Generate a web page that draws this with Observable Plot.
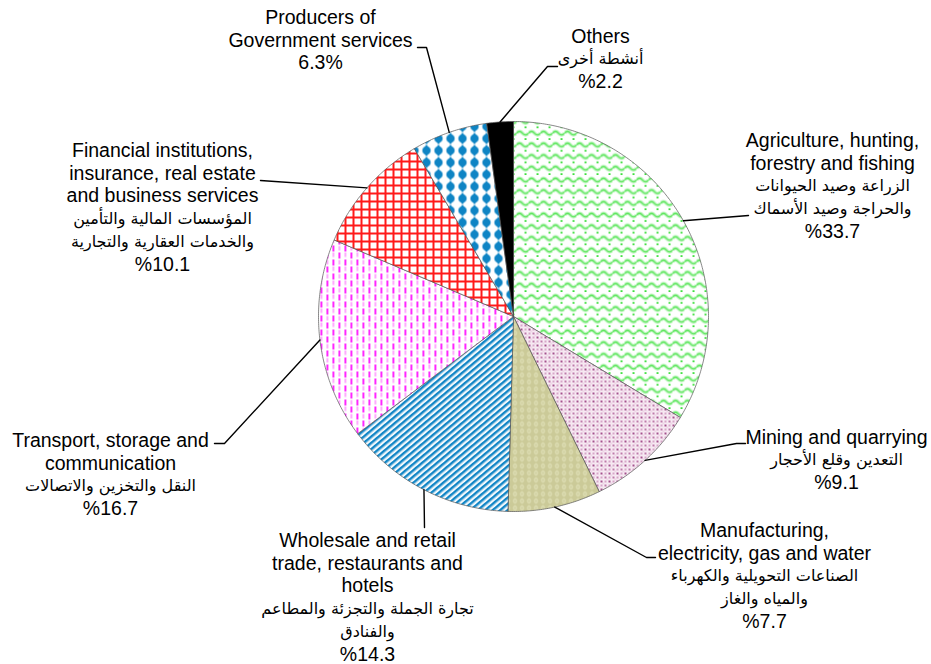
<!DOCTYPE html>
<html><head><meta charset="utf-8">
<script src="https://cdn.jsdelivr.net/npm/d3@7"></script>
<script src="https://cdn.jsdelivr.net/npm/@observablehq/plot@0.6"></script>
<style>html,body{margin:0;padding:0;background:#fff} svg{display:block}</style>
</head><body><div id="chart"></div>
<script>
// ---------- DATA ----------
const categories = [
  "Agriculture, hunting, forestry and fishing",
  "Mining and quarrying",
  "Manufacturing, electricity, gas and water",
  "Wholesale and retail trade, restaurants and hotels",
  "Transport, storage and communication",
  "Financial institutions, insurance, real estate and business services",
  "Producers of Government services",
  "Others"
];
const englishLines = [
  ["Agriculture, hunting,", "forestry and fishing"],
  ["Mining and quarrying"],
  ["Manufacturing,", "electricity, gas and water"],
  ["Wholesale and retail", "trade, restaurants and", "hotels"],
  ["Transport, storage and", "communication"],
  ["Financial institutions,", "insurance, real estate", "and business services"],
  ["Producers of", "Government services"],
  ["Others"]
];
const arabicLines = [
  ["الزراعة وصيد الحيوانات", "والحراجة وصيد الأسماك"],
  ["التعدين وقلع الأحجار"],
  ["الصناعات التحويلية والكهرباء", "والمياه والغاز"],
  ["تجارة الجملة والتجزئة والمطاعم", "والفنادق"],
  ["النقل والتخزين والاتصالات"],
  ["المؤسسات المالية والتأمين", "والخدمات العقارية والتجارية"],
  [],
  ["أنشطة أخرى"]
];
const shares = [33.7, 9.1, 7.7, 14.3, 16.7, 10.1, 6.3, 2.2];
const percentLabels = ["%33.7", "%9.1", "%7.7", "%14.3", "%16.7", "%10.1", "6.3%", "%2.2"];

// ---------- STYLE / LAYOUT ----------
const patternIds = ["pAgri", "pMin", "pMan", "pTrade", "pTrans", "pFin", "pGov", "pOth"];
const pie = {cx: 513, cy: 316, r: 195};
const lineStep = 22.8;
// label block: centre x, first-line y ; leader elbow points after the rim point
const labelLayout = [
  {x: 832, y: 140, leader: [[748, 215]]},
  {x: 836, y: 437, leader: [[736, 443], [745, 443]]},
  {x: 764, y: 530, leader: [[646, 557], [655, 557]]},
  {x: 367, y: 540, leader: [[424, 527]]},
  {x: 110, y: 440, leader: [[224, 443], [214, 443]]},
  {x: 162, y: 150, leader: [[260, 180]]},
  {x: 320, y: 17, leader: [[426, 47], [417, 47]]},
  {x: 600, y: 36, leader: [[547, 66], [557, 66]]}
];

// ---------- GEOMETRY FROM DATA ----------
const arcs = d3.pie().sort(null).value(d => d)(shares);
const polar = (a, r) => ({x: pie.cx + r * Math.sin(a), y: pie.cy - r * Math.cos(a)});

const slicePts = [];
arcs.forEach((a, i) => {
  const key = categories[i];
  const fill = `url(#${patternIds[i]})`;
  slicePts.push({key, fill, x: pie.cx, y: pie.cy});
  const n = Math.max(2, Math.ceil((a.endAngle - a.startAngle) / 0.01));
  for (let k = 0; k <= n; k++) {
    const t = a.startAngle + (a.endAngle - a.startAngle) * k / n;
    const p = polar(t, pie.r);
    slicePts.push({key, fill, x: p.x, y: p.y});
  }
  slicePts.push({key, fill, x: pie.cx, y: pie.cy});
});

const leaderPts = [];
arcs.forEach((a, i) => {
  const mid = (a.startAngle + a.endAngle) / 2;
  const p = polar(mid, pie.r);
  leaderPts.push({key: categories[i], x: p.x, y: p.y});
  labelLayout[i].leader.forEach(([x, y]) => leaderPts.push({key: categories[i], x, y}));
});

const latinText = [], arabicText = [];
categories.forEach((c, i) => {
  const L = labelLayout[i];
  let row = 0;
  englishLines[i].forEach(t => latinText.push({text: t, x: L.x, y: L.y + lineStep * row++}));
  arabicLines[i].forEach(t => arabicText.push({text: t, x: L.x, y: L.y + lineStep * row++}));
  latinText.push({text: percentLabels[i], x: L.x, y: L.y + lineStep * row++});
});

// ---------- PLOT ----------
const chart = Plot.plot({
  width: 931, height: 664, margin: 0,
  x: {domain: [0, 931], range: [0, 931], axis: null},
  y: {domain: [0, 664], range: [0, 664], axis: null},
  color: {type: "identity"},
  style: {background: "#fff"},
  marks: [
    Plot.line(slicePts, {x: "x", y: "y", z: "key", fill: "fill", stroke: "#555", strokeWidth: 0.7, strokeLinejoin: "round"}),
    Plot.line(leaderPts, {x: "x", y: "y", z: "key", stroke: "#000", strokeWidth: 1.4}),
    Plot.text(latinText, {x: "x", y: "y", text: "text", fill: "#000", fontSize: 19.5, fontFamily: "'Liberation Sans', Arial, sans-serif", textAnchor: "middle", lineAnchor: "middle"}),
    Plot.text(arabicText, {x: "x", y: "y", text: "text", fill: "#000", fontSize: 16, fontFamily: "'DejaVu Sans', sans-serif", textAnchor: "middle", lineAnchor: "middle"})
  ]
});

const defs = document.createElementNS("http://www.w3.org/2000/svg", "defs");
defs.innerHTML = `
<pattern id="pAgri" patternUnits="userSpaceOnUse" width="12" height="11.7">
  <rect width="12" height="11.7" fill="#fff"/>
  <path d="M0,4 Q3,0.4 6,4 Q9,7.6 12,4" fill="none" stroke="#bdf5bd" stroke-width="3.4"/>
  <path d="M0,4 Q3,0.4 6,4 Q9,7.6 12,4" fill="none" stroke="#5fe65f" stroke-width="1.3"/>
  <rect x="8.2" y="9" width="1.7" height="1.7" fill="#10d810"/>
</pattern>
<pattern id="pMin" patternUnits="userSpaceOnUse" width="8" height="8">
  <rect width="8" height="8" fill="#f8ecf4"/>
  <rect x="0" y="0" width="2" height="2" fill="#a4528e"/>
  <rect x="4" y="0" width="2" height="2" fill="#d6a6c8"/>
  <rect x="0" y="4" width="2" height="2" fill="#d6a6c8"/>
  <rect x="4" y="4" width="2" height="2" fill="#bd7aaa"/>
  <rect x="2" y="2" width="1.6" height="1.6" fill="#e9cadf"/>
  <rect x="6" y="6" width="1.6" height="1.6" fill="#e9cadf"/>
  <rect x="6" y="2" width="1.2" height="1.2" fill="#f0dcea"/>
  <rect x="2" y="6" width="1.2" height="1.2" fill="#f0dcea"/>
</pattern>
<pattern id="pMan" patternUnits="userSpaceOnUse" width="7" height="7">
  <rect width="7" height="7" fill="#cbca98"/>
  <ellipse cx="3.5" cy="3.5" rx="1.3" ry="2.2" fill="none" stroke="#eeedcc" stroke-width="0.8"/>
</pattern>
<pattern id="pTrade" patternUnits="userSpaceOnUse" width="10" height="4.8" patternTransform="rotate(-40)">
  <rect width="10" height="4.8" fill="#fff"/>
  <rect y="0" width="10" height="2.5" fill="#1286c6"/>
  <rect y="2.5" width="10" height="0.6" fill="#8cc4e4"/>
</pattern>
<pattern id="pTrans" patternUnits="userSpaceOnUse" width="12" height="14">
  <rect width="12" height="14" fill="#fff"/>
  <rect x="2" y="0" width="1.7" height="6" fill="#f0f"/>
  <rect x="2" y="7.5" width="1.7" height="4.5" fill="#ff9cff"/>
  <rect x="8" y="0" width="1.7" height="4.5" fill="#ff9cff"/>
  <rect x="8" y="7" width="1.7" height="6" fill="#f0f"/>
</pattern>
<pattern id="pFin" patternUnits="userSpaceOnUse" width="8" height="8">
  <rect width="8" height="8" fill="#fff"/>
  <rect x="0" y="0" width="8" height="2" fill="#ff1a1a"/>
  <rect x="0" y="0" width="2" height="8" fill="#ff1a1a"/>
</pattern>
<pattern id="pGov" patternUnits="userSpaceOnUse" width="12" height="12">
  <rect width="12" height="12" fill="#fff"/>
  <path d="M6,0 L10.4,6 L6,12 L1.6,6Z" fill="#0e84c4"/>
  <circle cx="6" cy="6" r="4" fill="#0e84c4"/>
</pattern>
<pattern id="pOth" patternUnits="userSpaceOnUse" width="4" height="4">
  <rect width="4" height="4" fill="#000"/>
</pattern>`;
chart.insertBefore(defs, chart.firstChild);
document.getElementById("chart").appendChild(chart);
</script></body></html>
